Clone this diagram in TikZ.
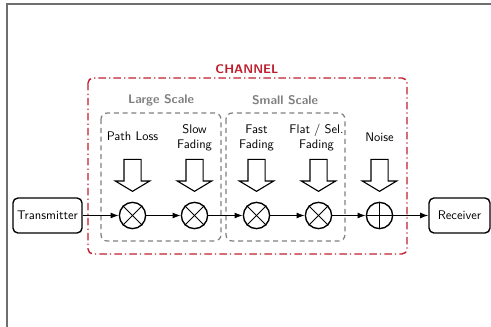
\documentclass[tikz,border=0pt]{standalone}
\usepackage{tikz}
\usetikzlibrary{arrows.meta, positioning, shapes.arrows}
\usepackage{xcolor}
\definecolor{chanred}{RGB}{190,30,45}
\definecolor{scalegray}{RGB}{128,128,128}
\definecolor{framegray}{RGB}{110,110,110}

\begin{document}
\begin{tikzpicture}[
        x=0.8pt, y=-0.8pt,
        every node/.style={font=\sffamily},
        entity/.style={
          rectangle,
          rounded corners=4pt,
          draw,
          line width=1.1pt,
          minimum height=28pt,
          align=center
        },
        mult/.style={
          circle,
          draw,
          line width=1.1pt,
          minimum size=21pt,
          inner sep=0pt
        },
        effect/.style={
          single arrow,
          draw,
          line width=0.9pt,
          shape border rotate=270,
          inner sep=6.4pt,
          minimum height=25.6pt,
          single arrow head extend=7pt,
          single arrow tip angle=118,
          anchor=tip
        },
        arrow/.style={
          -{Latex[length=6.5pt,width=4.8pt]},
          line width=0.9pt
        },
        label/.style={
          align=center,
          font=\sffamily
        },
        scale box/.style={
          draw=scalegray,
          line width=1pt,
          dash pattern=on 4pt off 3pt,
          rounded corners=5pt
        }
      ]

      \useasboundingbox (0,0) rectangle (491,327);

      % Frame
      \draw[framegray, line width=1.3pt] (7,327) -- (7,4) -- (491,4);

      % Channel box
      \draw[chanred, line width=1.1pt, rounded corners=4pt,
        dash pattern=on 6pt off 2.5pt on 1pt off 2.5pt] (88,78) rectangle (407,254);
      \node[label, font=\sffamily\bfseries, text=chanred] (chanlbl) at (247,69) {CHANNEL};

      % Scale groups
      \draw[scale box] (101,113) rectangle (221,241);
      \draw[scale box] (226,113) rectangle (345,241);
      \node[label, font=\sffamily\bfseries, text=scalegray] (largelbl) at (161,100) {Large Scale};
      \node[label, font=\sffamily\bfseries, text=scalegray] (smalllbl) at (285,100) {Small Scale};

      % Entities
      \node[entity] (tx) at (47.5,215.5) {Transmitter};
      \node[entity, minimum width=48.8pt] (rx) at (459.5,215.5) {Receiver};

      \node[mult] (pathloss) at (132.5,215.5) {};
      \node[mult] (slow) at (194.5,215.5) {};
      \node[mult] (fast) at (256.5,215.5) {};
      \node[mult] (flat) at (318.5,215.5) {};
      \node[mult] (noise) at (379.5,215.5) {};

      % Multiplier and adder marks
      \foreach \m in {pathloss, slow, fast, flat} {
        \draw[semithick] (\m.north west) -- (\m.south east);
        \draw[semithick] (\m.north east) -- (\m.south west);
      }
      \draw[semithick] (noise.north) -- (noise.south);
      \draw[semithick] (noise.west) -- (noise.east);

      % Effects
      \node[effect] (pathlossin) at (132.5,192) {};
      \node[effect] (slowin) at (194.5,192) {};
      \node[effect] (fastin) at (256.5,192) {};
      \node[effect] (flatin) at (318.5,192) {};
      \node[effect] (noisein) at (379.5,192) {};

      % Effect labels
      \node[label] (pathlosslbl) at (132.5,136) {Path Loss};
      \node[label] (slowlbl) at (194.5,138) {Slow\\Fading};
      \node[label] (fastlbl) at (256.5,138) {Fast\\Fading};
      \node[label] (flatlbl) at (316.5,138) {Flat / Sel.\\Fading};
      \node[label] (noiselbl) at (379.5,137) {Noise};

      % Signal path
      \draw[arrow] (tx) -- (pathloss);
      \draw[arrow] (pathloss) -- (slow);
      \draw[arrow] (slow) -- (fast);
      \draw[arrow] (fast) -- (flat);
      \draw[arrow] (flat) -- (noise);
      \draw[arrow] (noise) -- (rx);

    \end{tikzpicture}
\end{document}
